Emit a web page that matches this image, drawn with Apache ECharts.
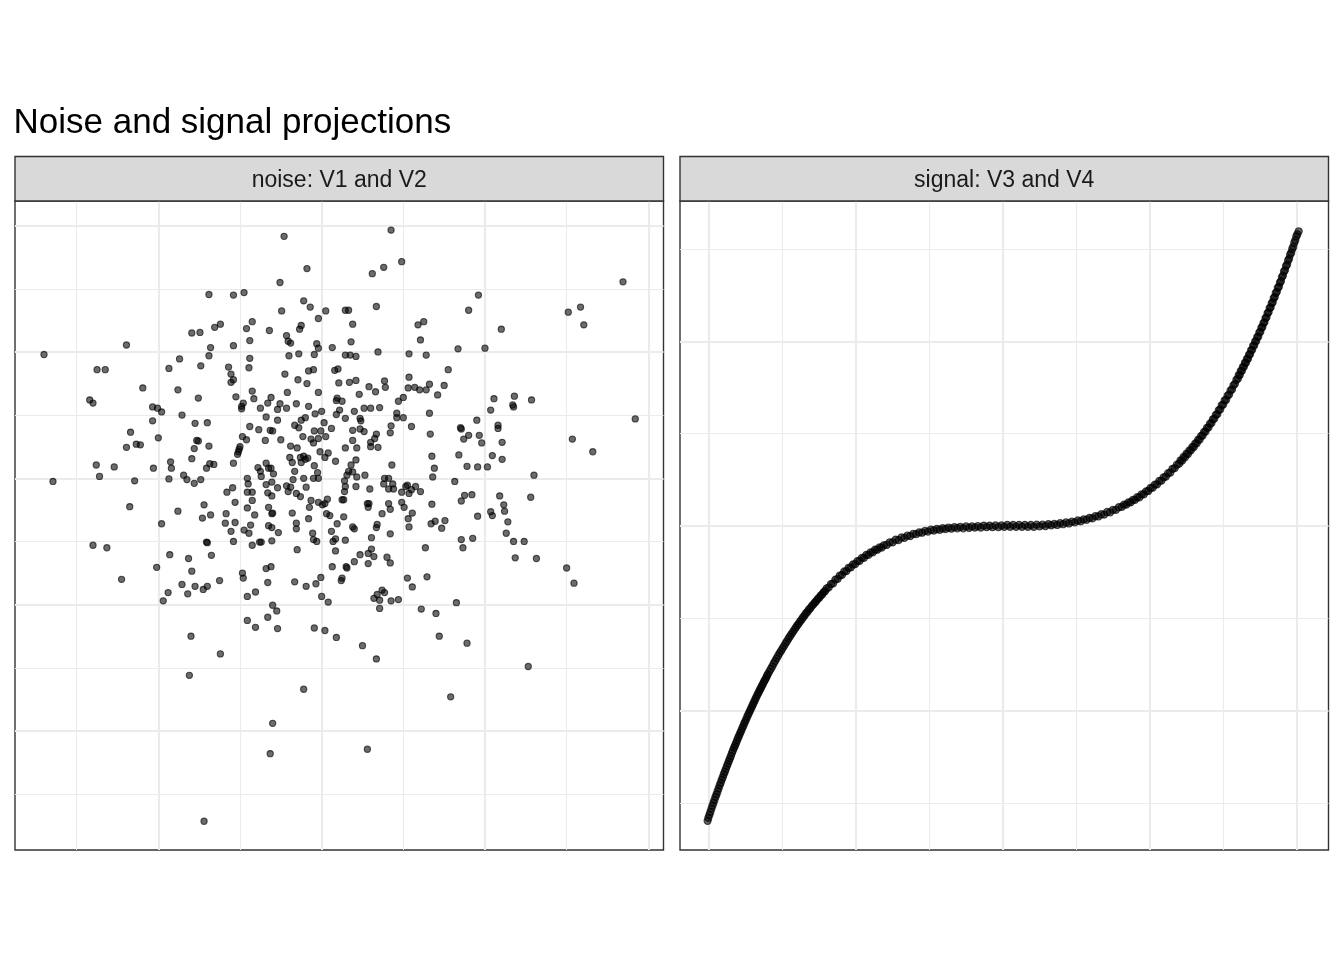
<!DOCTYPE html>
<html>
<head>
<meta charset="utf-8">
<script src="https://cdn.jsdelivr.net/npm/echarts@6.0.0/dist/echarts.min.js"></script>
<style>
html,body{margin:0;padding:0;background:#fff;}
#chart{width:1344px;height:960px;}
</style>
</head>
<body>
<div id="chart"></div>
<script>
const chartTitle = 'Noise and signal projections';
const panelLabels = ['noise: V1 and V2', 'signal: V3 and V4'];

const noisePoints = [
[-0.46,3.83],[-0.18,3.32],[-0.51,3.10],[-1.38,2.91],[-1.08,2.90],[-0.95,2.94],[-0.49,2.65],[-0.22,2.81],[-0.14,2.71],[0.05,2.65],[-0.04,2.53],[-1.59,2.30],[-1.49,2.31],[-1.31,2.39],[-1.24,2.44],[-0.92,2.37],[-0.85,2.48],[-0.64,2.34],[-0.25,2.42],[-0.27,2.36],[-0.43,2.26],[-0.41,2.17],[-0.38,2.14],[-0.06,2.13],[-0.04,2.06],[0.13,2.07],[-2.39,2.11],[-3.40,1.96],[-1.36,2.07],[-1.08,2.10],[-0.88,2.18],[-1.38,1.94],[-0.88,1.90],[-0.40,1.94],[-0.28,1.97],[-0.09,1.96],[-1.74,1.89],[-2.75,1.72],[-2.65,1.72],[-1.87,1.74],[-1.48,1.78],[-1.14,1.76],[-0.89,1.75],[-1.11,1.65],[-1.08,1.56],[-1.11,1.52],[-0.45,1.65],[-0.29,1.56],[-0.18,1.50],[-0.16,1.70],[-0.10,1.72],[0.16,1.71],[0.20,1.73],[-2.19,1.43],[-1.76,1.40],[-1.51,1.27],[-2.84,1.24],[-2.80,1.19],[-2.07,1.13],[-2.01,1.11],[-1.96,1.05],[-1.71,1.00],[-1.05,1.29],[-0.85,1.38],[-0.83,1.26],[-0.96,1.19],[-0.98,1.14],[-0.98,1.10],[-0.54,1.09],[-0.51,1.18],[-0.43,1.11],[-0.62,1.28],[-0.66,1.19],[-0.75,1.11],[-0.42,1.36],[-0.31,1.18],[-0.16,1.14],[-0.04,1.36],[-0.08,1.02],[0.00,1.06],[0.19,1.27],[0.18,1.23],[0.18,1.01],[0.21,1.51],
[0.85,3.93],[0.62,3.24],[0.76,3.34],[0.98,3.43],[3.69,3.11],[1.92,2.90],[1.80,2.66],[3.02,2.63],[3.17,2.71],[3.21,2.43],[2.20,2.36],[0.29,2.66],[0.33,2.66],[0.67,2.72],[0.38,2.44],[0.36,2.16],[1.18,2.43],[1.25,2.48],[1.21,2.19],[1.67,2.05],[2.00,2.06],[0.69,2.00],[1.07,1.97],[1.28,1.95],[0.29,1.95],[0.35,1.95],[0.42,1.93],[1.55,1.72],[0.34,1.52],[0.42,1.55],[0.58,1.45],[0.66,1.37],[0.77,1.54],[0.78,1.44],[1.07,1.60],[1.06,1.43],[1.14,1.44],[1.20,1.40],[1.28,1.40],[1.32,1.49],[1.50,1.47],[1.42,1.32],[1.00,1.28],[0.94,1.22],[0.46,1.33],[0.25,1.22],[0.22,1.08],[0.40,1.06],[0.52,1.11],[0.60,1.11],[0.71,1.12],[0.92,1.03],[1.32,1.03],[2.11,1.26],[2.36,1.30],[2.34,1.16],[2.35,1.13],[2.57,1.24],[2.07,1.08],
[-2.07,0.91],[-1.55,0.87],[-1.40,0.88],[-0.88,0.82],[-0.77,0.77],[-0.68,0.97],[-0.54,0.92],[-0.63,0.76],[-0.60,0.75],[-0.33,0.84],[-0.28,0.80],[-0.25,0.92],[-0.20,0.96],[0.03,0.88],[0.12,0.79],[-0.01,0.75],[-0.09,0.75],[-2.34,0.73],[-2.00,0.64],[-2.39,0.49],[-2.27,0.54],[-2.22,0.53],[-1.53,0.60],[-1.51,0.59],[-1.56,0.47],[-1.38,0.51],[-0.97,0.66],[-0.92,0.61],[-1.00,0.50],[-1.01,0.46],[-1.02,0.42],[-1.03,0.38],[-0.69,0.60],[-0.50,0.61],[-0.38,0.51],[-0.30,0.48],[-0.23,0.66],[-0.13,0.62],[-0.10,0.56],[-0.04,0.63],[0.05,0.66],[-0.02,0.42],[0.08,0.40],[0.04,0.33],[0.17,0.27],[-2.76,0.21],[-2.54,0.18],[-2.72,0.03],[-3.29,-0.05],[-2.29,-0.04],[-2.06,0.16],[-1.85,0.26],[-1.84,0.16],[-1.59,0.31],[-1.41,0.16],[-1.37,0.23],[-1.32,0.22],[-1.87,-0.01],[-1.69,0.05],[-1.65,-0.02],[-1.56,-0.08],[-1.48,-0.02],[-1.08,0.24],[-0.78,0.17],[-0.75,0.11],[-0.68,0.24],[-0.65,0.16],[-0.62,0.16],[-0.59,0.07],[-0.74,0.03],[-0.91,0.00],[-0.90,-0.09],[-0.39,0.33],[-0.36,0.25],[-0.26,0.33],[-0.22,0.35],[-0.20,0.30],[-0.17,0.32],[-0.25,0.25],[-0.09,0.20],[-0.33,0.11],[-0.22,0.00],[-0.35,-0.02],[-0.05,0.09],[-0.04,0.00],[-0.10,0.00],[-0.68,-0.10],[-0.61,-0.06],[-0.54,-0.15],[-0.43,-0.12],[-0.38,-0.14],[-0.41,-0.21],[-0.31,-0.24],[-0.26,-0.29],[-0.19,-0.14],[-1.09,-0.15],[-1.16,-0.22],[-0.91,-0.22],[-0.85,-0.22],[-0.66,-0.23],[-0.61,-0.28],[-0.85,-0.35],[-1.06,-0.38],[-0.91,-0.47],[-0.82,-0.58],[-0.65,-0.46],[-0.61,-0.56],[-0.60,-0.55],[-1.44,-0.42],[-1.76,-0.52],[-2.35,-0.45],[-1.46,-0.63],[-1.36,-0.58],[-1.17,-0.56],[-1.18,-0.71],[-1.06,-0.70],[-1.11,-0.84],[-1.96,-0.72],[-0.87,-0.74],[-0.95,-0.82],[-0.89,-0.87],[-0.65,-0.75],[-0.61,-0.78],[-0.53,-0.86],[-0.36,-0.55],[-0.31,-0.71],[-0.31,-0.80],[-0.16,-0.64],[-0.13,-0.35],[-0.15,-0.46],[-0.04,-0.38],[0.01,-0.42],[0.04,-0.40],[0.07,-0.33],[0.10,-0.59],[0.06,-0.56],[0.19,-0.72],[-0.11,-0.87],[-0.10,-0.97],[-0.06,-1.00],[0.12,-0.84],[0.14,-1.00],[0.17,-0.96],[0.17,-1.15],[-0.76,-1.01],[-0.74,-1.01],[-0.61,-0.99],[-0.85,-1.06],[-1.08,-1.00],[-1.40,-1.02],[-1.41,-1.01],[-1.35,-1.22],[-1.86,-1.21],[-1.63,-1.27],[-1.59,-1.47],[-2.02,-1.41],[-2.80,-1.06],[-2.63,-1.10],[-2.45,-1.60],[-1.25,-1.62],[-1.71,-1.68],[-1.55,-1.71],[-1.45,-1.76],[-1.40,-1.71],[-1.64,-1.83],[-1.88,-1.81],[-1.94,-1.94],[-0.97,-1.50],[-0.96,-1.58],[-0.68,-1.43],[-0.62,-1.40],[-0.66,-1.65],[-0.81,-1.80],[-0.91,-1.87],[-0.30,-1.13],[-0.33,-1.64],[-0.19,-1.71],[-0.07,-1.67],[-0.01,-1.57],[0.13,-1.40],[0.00,-1.87],[0.08,-1.96],[-0.60,-2.01],[-0.55,-2.10],[-0.66,-2.20],[-0.91,-2.25],[-0.81,-2.36],[-0.54,-2.38],[-0.09,-2.37],[0.04,-2.41],
[0.29,0.95],[0.47,0.95],[0.48,0.91],[0.92,0.96],[1.00,0.96],[1.90,0.92],[2.16,0.84],[2.16,0.79],[3.84,0.94],[1.10,0.82],[0.85,0.83],[0.84,0.72],[0.38,0.76],[0.47,0.78],[0.52,0.74],[0.67,0.70],[0.65,0.63],[0.60,0.57],[0.60,0.50],[0.38,0.60],[0.29,0.48],[0.43,0.48],[0.69,0.49],[1.33,0.70],[1.70,0.80],[1.71,0.78],[1.80,0.68],[1.74,0.62],[1.93,0.68],[1.96,0.56],[2.21,0.57],[3.07,0.62],[3.32,0.42],[1.35,0.35],[1.68,0.37],[1.78,0.19],[1.91,0.18],[2.03,0.18],[2.09,0.36],[2.21,0.30],[2.60,0.05],[1.38,0.16],[1.36,0.02],[0.86,0.21],[0.42,0.29],[0.36,0.21],[0.33,0.11],[0.38,0.10],[0.31,0.05],[0.43,0.02],[0.53,0.05],[0.28,-0.04],[0.29,-0.13],[0.28,-0.21],[0.25,-0.34],[0.27,-0.34],[0.42,-0.13],[0.59,-0.17],[0.77,0.00],[0.82,0.00],[0.76,-0.09],[0.82,-0.17],[0.87,-0.09],[0.88,-0.17],[0.98,-0.22],[1.03,-0.13],[1.05,-0.11],[1.07,-0.24],[1.10,-0.18],[1.15,-0.13],[1.21,-0.21],[1.63,-0.05],[1.75,-0.27],[1.84,-0.26],[1.71,-0.36],[2.18,-0.28],[2.23,-0.42],[2.24,-0.52],[2.56,-0.30],[2.07,-0.53],[2.09,-0.59],[1.91,-0.60],[2.28,-0.69],[2.26,-0.87],[2.35,-1.00],[2.48,-1.00],[2.37,-1.26],[2.63,-1.27],[3.00,-1.42],[3.09,-1.66],[1.71,-0.97],[1.85,-0.95],[1.73,-1.10],[1.35,-0.41],[1.34,-0.72],[1.39,-0.68],[1.51,-0.67],[1.47,-0.79],[1.27,-1.10],[1.29,-1.56],[1.05,-1.58],[1.11,-1.72],[1.22,-2.07],[1.40,-2.14],[1.65,-1.97],[0.56,-0.40],[0.58,-0.40],[0.57,-0.46],[0.82,-0.40],[0.84,-0.49],[0.98,-0.38],[1.01,-0.46],[1.11,-0.55],[1.06,-0.64],[1.07,-0.77],[0.74,-0.56],[0.27,-0.61],[0.38,-0.77],[0.40,-0.80],[0.68,-0.73],[0.67,-0.78],[0.84,-0.88],[0.61,-0.94],[0.29,-0.98],[0.61,-1.12],[0.57,-1.19],[0.64,-1.24],[0.47,-1.21],[0.80,-1.25],[0.84,-1.34],[0.40,-1.32],[0.57,-1.35],[0.30,-1.40],[0.31,-1.42],[0.25,-1.58],[0.24,-1.62],[0.64,-1.90],[0.68,-1.84],[0.74,-1.77],[0.77,-1.81],[0.71,-1.93],[0.85,-1.94],[0.94,-1.92],[0.71,-2.06],
[0.18,-2.52],[-1.60,-2.50],[-1.24,-2.78],[-1.62,-3.12],[-0.22,-3.34],[-0.60,-3.88],[-0.63,-4.36],[-1.44,-5.43],
[0.50,-2.65],[0.67,-2.86],[1.44,-2.50],[1.78,-2.61],[2.53,-2.98],[1.58,-3.46],[0.56,-4.29]
];

const signalPoints = [
[-2.010,-7.98],[-2.005,-7.90],[-1.998,-7.82],[-1.991,-7.74],[-1.984,-7.65],[-1.977,-7.57],[-1.970,-7.49],[-1.963,-7.41],[-1.956,-7.33],[-1.949,-7.26],[-1.942,-7.18],[-1.935,-7.10],[-1.928,-7.02],[-1.921,-6.95],[-1.914,-6.87],[-1.907,-6.80],[-1.900,-6.72],[-1.893,-6.65],[-1.886,-6.58],[-1.879,-6.50],[-1.872,-6.43],[-1.865,-6.36],[-1.858,-6.29],[-1.851,-6.22],[-1.844,-6.14],[-1.837,-6.07],[-1.830,-6.00],[-1.823,-5.94],[-1.816,-5.87],[-1.809,-5.80],[-1.802,-5.73],[-1.795,-5.67],[-1.788,-5.60],[-1.781,-5.54],[-1.774,-5.47],[-1.767,-5.41],[-1.760,-5.34],[-1.753,-5.28],[-1.746,-5.22],[-1.739,-5.15],[-1.732,-5.09],[-1.725,-5.03],[-1.718,-4.97],[-1.711,-4.91],[-1.704,-4.85],[-1.697,-4.79],[-1.690,-4.73],[-1.683,-4.67],[-1.676,-4.61],[-1.669,-4.55],[-1.662,-4.50],[-1.655,-4.44],[-1.648,-4.39],[-1.641,-4.33],[-1.634,-4.28],[-1.627,-4.22],[-1.620,-4.17],[-1.613,-4.12],[-1.606,-4.06],[-1.600,-4.01],
[-1.59,-3.94],[-1.58,-3.87],[-1.57,-3.80],[-1.56,-3.72],[-1.55,-3.65],[-1.54,-3.58],[-1.53,-3.51],[-1.52,-3.44],[-1.51,-3.38],[-1.50,-3.31],[-1.49,-3.25],[-1.48,-3.18],[-1.47,-3.12],[-1.46,-3.05],[-1.45,-2.99],[-1.44,-2.93],[-1.43,-2.87],[-1.42,-2.81],[-1.41,-2.75],[-1.40,-2.69],[-1.39,-2.64],[-1.38,-2.58],[-1.37,-2.53],[-1.36,-2.47],[-1.35,-2.42],[-1.34,-2.36],[-1.33,-2.32],[-1.32,-2.26],[-1.31,-2.22],[-1.30,-2.16],[-1.29,-2.12],[-1.28,-2.07],[-1.27,-2.03],[-1.26,-1.97],[-1.25,-1.94],[-1.24,-1.88],[-1.23,-1.85],[-1.22,-1.79],[-1.21,-1.76],
[-1.20,-1.69],[-1.185,-1.66],[-1.17,-1.57],[-1.155,-1.55],[-1.14,-1.45],[-1.125,-1.43],[-1.11,-1.34],[-1.095,-1.32],[-1.08,-1.23],[-1.065,-1.22],[-1.05,-1.13],[-1.035,-1.12],[-1.02,-1.04],[-1.005,-1.03],[-0.99,-0.95],[-0.975,-0.94],[-0.96,-0.86],[-0.945,-0.86],[-0.93,-0.78],[-0.915,-0.78],[-0.90,-0.71],[-0.885,-0.71],[-0.87,-0.64],[-0.855,-0.64],[-0.84,-0.58],[-0.825,-0.58],[-0.81,-0.52],
[-0.79,-0.51],[-0.77,-0.44],[-0.75,-0.44],[-0.73,-0.37],[-0.71,-0.38],[-0.69,-0.31],[-0.67,-0.32],[-0.65,-0.26],[-0.63,-0.27],[-0.61,-0.21],[-0.59,-0.22],[-0.57,-0.17],[-0.55,-0.18],[-0.53,-0.13],[-0.51,-0.15],[-0.49,-0.10],[-0.47,-0.12],[-0.45,-0.08],[-0.43,-0.10],[-0.41,-0.06],[-0.39,-0.08],[-0.37,-0.04],[-0.35,-0.07],[-0.33,-0.03],[-0.31,-0.06],[-0.29,-0.02],[-0.27,-0.06],[-0.25,-0.01],[-0.23,-0.05],[-0.21,-0.01],[-0.19,-0.04],[-0.17,0.00],[-0.15,-0.04],[-0.13,0.01],[-0.11,-0.03],[-0.09,0.01],[-0.07,-0.03],[-0.05,0.02],[-0.03,-0.03],[-0.01,0.02],
[0.01,-0.02],[0.03,0.03],[0.05,-0.02],[0.07,0.03],[0.09,-0.02],[0.11,0.03],[0.13,-0.02],[0.15,0.03],[0.17,-0.02],[0.19,0.03],[0.21,-0.02],[0.23,0.04],[0.25,-0.01],[0.27,0.04],[0.29,0.00],[0.31,0.05],[0.33,0.02],[0.35,0.06],[0.37,0.03],[0.39,0.08],[0.41,0.05],[0.43,0.10],[0.45,0.07],[0.47,0.12],[0.49,0.10],[0.51,0.15],[0.53,0.13],[0.55,0.18],[0.57,0.17],[0.59,0.22],[0.61,0.21],[0.63,0.27],[0.65,0.26],[0.67,0.32],[0.69,0.31],[0.71,0.38],[0.73,0.37],[0.75,0.44],[0.77,0.44],[0.79,0.51],
[0.81,0.52],[0.825,0.58],[0.84,0.58],[0.855,0.64],[0.87,0.64],[0.885,0.71],[0.90,0.71],[0.915,0.78],[0.93,0.78],[0.945,0.86],[0.96,0.86],[0.975,0.94],[0.99,0.95],[1.005,1.03],[1.02,1.04],[1.035,1.12],[1.05,1.13],[1.065,1.22],[1.08,1.23],[1.095,1.32],[1.11,1.34],[1.125,1.43],[1.14,1.45],[1.155,1.55],[1.17,1.57],[1.185,1.66],[1.20,1.69],
[1.21,1.78],[1.22,1.77],[1.23,1.87],[1.24,1.86],[1.25,1.96],[1.26,1.95],[1.27,2.05],[1.28,2.05],[1.29,2.14],[1.30,2.14],[1.31,2.24],[1.32,2.24],[1.33,2.34],[1.34,2.34],[1.35,2.44],[1.36,2.45],[1.37,2.55],[1.38,2.56],[1.39,2.66],[1.40,2.67],[1.41,2.77],[1.42,2.79],[1.43,2.89],[1.44,2.91],[1.45,3.01],[1.46,3.03],[1.47,3.14],[1.48,3.16],[1.49,3.27],[1.50,3.29],[1.51,3.40],[1.52,3.42],[1.53,3.53],[1.54,3.56],[1.55,3.67],[1.56,3.70],[1.57,3.81],[1.58,3.85],[1.59,3.96],
[1.600,3.99],[1.606,4.09],[1.613,4.09],[1.620,4.20],[1.627,4.20],[1.634,4.31],[1.641,4.31],[1.648,4.42],[1.655,4.42],[1.662,4.53],[1.669,4.53],[1.676,4.64],[1.683,4.65],[1.690,4.76],[1.697,4.77],[1.704,4.88],[1.711,4.89],[1.718,5.00],[1.725,5.01],[1.732,5.12],[1.739,5.13],[1.746,5.24],[1.753,5.26],[1.760,5.37],[1.767,5.39],[1.774,5.49],[1.781,5.52],[1.788,5.63],[1.795,5.65],[1.802,5.76],[1.809,5.79],[1.816,5.90],[1.823,5.92],[1.830,6.03],[1.837,6.06],[1.844,6.17],[1.851,6.20],[1.858,6.31],[1.865,6.34],[1.872,6.45],[1.879,6.48],[1.886,6.59],[1.893,6.63],[1.900,6.74],[1.907,6.78],[1.914,6.89],[1.921,6.93],[1.928,7.04],[1.935,7.08],[1.942,7.19],[1.949,7.24],[1.956,7.35],[1.963,7.40],[1.970,7.50],[1.977,7.56],[1.984,7.67],[1.991,7.74],[1.998,7.84],[2.005,7.90],[2.014,7.98]
];

// axis extents and gridline positions (data units)
const noiseXRange = [-3.755, 4.186];
const noiseYRange = [-5.885, 4.39];
const signalXRange = [-2.198, 2.217];
const signalYRange = [-8.77, 8.80];
const noiseMajorX = [-2, 0, 2, 4];
const noiseMinorX = [-3, -1, 1, 3];
const noiseMajorY = [-4, -2, 0, 2, 4];
const noiseMinorY = [-5, -3, -1, 1, 3];
const signalMajorX = [-2, -1, 0, 1, 2];
const signalMinorX = [-1.5, -0.5, 0.5, 1.5];
const signalMajorY = [-5, 0, 5];
const signalMinorY = [-7.5, -2.5, 2.5, 7.5];

const GRID_COLOR = '#EBEBEB';
function gridLines(majX, minX, majY, minY) {
  const out = [];
  minX.forEach(v => out.push({xAxis: v, lineStyle: {width: 1.1, color: GRID_COLOR, type: 'solid'}}));
  minY.forEach(v => out.push({yAxis: v, lineStyle: {width: 1.1, color: GRID_COLOR, type: 'solid'}}));
  majX.forEach(v => out.push({xAxis: v, lineStyle: {width: 2.1, color: GRID_COLOR, type: 'solid'}}));
  majY.forEach(v => out.push({yAxis: v, lineStyle: {width: 2.1, color: GRID_COLOR, type: 'solid'}}));
  return out;
}

const PANEL_TOP = 201, PANEL_H = 649, PANEL_W = 648.5;
const panelLefts = [15, 680];
const STRIP_TOP = 156.5, STRIP_H = 44.5;
const FONT = '"Liberation Sans", Arial, Helvetica, sans-serif';

const noiseStyle = {color: 'rgba(0,0,0,0.72)', borderColor: 'rgba(0,0,0,0.8)', borderWidth: 1.1};
const signalStyle = {color: 'rgba(0,0,0,0.75)', borderColor: 'rgba(0,0,0,0.8)', borderWidth: 1.1};

const chart = echarts.init(document.getElementById('chart'), null, {renderer: 'canvas'});

const graphics = [];
panelLefts.forEach((left, i) => {
  graphics.push({
    type: 'rect', z: 10,
    shape: {x: left, y: STRIP_TOP, width: PANEL_W, height: STRIP_H},
    style: {fill: '#D9D9D9', stroke: '#333333', lineWidth: 1.4}
  });
  graphics.push({
    type: 'text', z: 11,
    x: left + PANEL_W / 2, y: 180.5,
    style: {text: panelLabels[i], fill: '#1A1A1A', fontSize: 23, fontFamily: FONT, align: 'center', verticalAlign: 'middle'}
  });
});
graphics.push({
  type: 'text', z: 11, x: 13.5, y: 123.5,
  style: {text: chartTitle, fill: '#000000', fontSize: 35, fontFamily: FONT, align: 'left', verticalAlign: 'middle'}
});

const option = {
  animation: false,
  backgroundColor: '#ffffff',
  grid: panelLefts.map(left => ({
    left: left, top: PANEL_TOP, width: PANEL_W, height: PANEL_H,
    show: true, backgroundColor: '#ffffff', borderColor: '#333333', borderWidth: 1.4, containLabel: false
  })),
  xAxis: [
    {gridIndex: 0, type: 'value', min: noiseXRange[0], max: noiseXRange[1], show: false},
    {gridIndex: 1, type: 'value', min: signalXRange[0], max: signalXRange[1], show: false}
  ],
  yAxis: [
    {gridIndex: 0, type: 'value', min: noiseYRange[0], max: noiseYRange[1], show: false},
    {gridIndex: 1, type: 'value', min: signalYRange[0], max: signalYRange[1], show: false}
  ],
  graphic: graphics,
  series: [
    {
      type: 'scatter', xAxisIndex: 0, yAxisIndex: 0, z: 3,
      data: noisePoints, symbol: 'circle', symbolSize: 6.2,
      itemStyle: noiseStyle, silent: true,
      markLine: {silent: true, z: 1, symbol: ['none', 'none'], label: {show: false}, animation: false,
        data: gridLines(noiseMajorX, noiseMinorX, noiseMajorY, noiseMinorY)}
    },
    {
      type: 'scatter', xAxisIndex: 1, yAxisIndex: 1, z: 3,
      data: signalPoints, symbol: 'circle', symbolSize: 7.2,
      itemStyle: signalStyle, silent: true,
      markLine: {silent: true, z: 1, symbol: ['none', 'none'], label: {show: false}, animation: false,
        data: gridLines(signalMajorX, signalMinorX, signalMajorY, signalMinorY)}
    }
  ]
};
chart.setOption(option);
</script>
</body>
</html>
